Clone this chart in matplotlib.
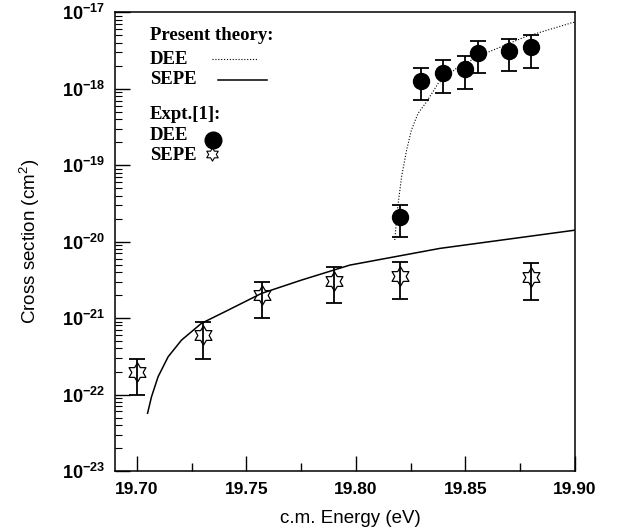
import numpy as np
import matplotlib
matplotlib.use("Agg")
import matplotlib.pyplot as plt
from matplotlib.lines import Line2D
from matplotlib.ticker import FixedLocator, FuncFormatter, NullFormatter

plt.rcParams['font.family'] = ['Liberation Sans', 'DejaVu Sans']
plt.rcParams['mathtext.fontset'] = 'custom'
plt.rcParams['mathtext.rm'] = 'Liberation Sans:bold'
plt.rcParams['mathtext.bf'] = 'Liberation Sans:bold'

# Experimental data (Expt. [1])
dee_energy = [19.82, 19.83, 19.84, 19.85, 19.856, 19.87, 19.88]
dee_sigma = [2.1e-20, 1.26e-18, 1.61e-18, 1.8e-18, 2.9e-18, 3.12e-18, 3.5e-18]
dee_upper = [3.0e-20, 1.85e-18, 2.34e-18, 2.66e-18, 4.2e-18, 4.5e-18, 5.05e-18]
dee_lower = [1.15e-20, 7.1e-19, 8.8e-19, 9.9e-19, 1.58e-18, 1.71e-18, 1.87e-18]

sepe_energy = [19.70, 19.73, 19.757, 19.79, 19.82, 19.88]
sepe_sigma = [2.0e-22, 6.0e-22, 2.0e-21, 3.05e-21, 3.5e-21, 3.45e-21]
sepe_upper = [2.94e-22, 8.9e-22, 2.96e-21, 4.6e-21, 5.4e-21, 5.2e-21]
sepe_lower = [9.9e-23, 2.94e-22, 1.0e-21, 1.56e-21, 1.79e-21, 1.72e-21]

# Present theory curves
dee_th_energy = [19.8178, 19.8190, 19.8209, 19.8232, 19.8254, 19.8284, 19.8323,
                 19.8376, 19.8467, 19.8589, 19.8772, 19.8985, 19.90]
dee_th_sigma = [1.05e-20, 2.58e-20, 7.03e-20, 1.57e-19, 2.87e-19, 4.74e-19, 6.72e-19,
                1.17e-18, 1.93e-18, 2.88e-18, 4.75e-18, 7.25e-18, 7.4e-18]

sepe_th_energy = [19.7049, 19.7067, 19.7097, 19.7143, 19.7204, 19.7295, 19.7417,
                  19.7569, 19.7752, 19.7973, 19.8384, 19.90]
sepe_th_sigma = [5.7e-23, 9.35e-23, 1.71e-22, 3.12e-22, 5.15e-22, 8.53e-22, 1.27e-21,
                 2.10e-21, 3.14e-21, 4.93e-21, 8.15e-21, 1.41e-20]

x_ticks = [19.70, 19.75, 19.80, 19.85, 19.90]
x_minor = [19.725, 19.775, 19.825, 19.875]
y_decades = [-23, -22, -21, -20, -19, -18, -17]


def hexagram():
  "Outline of a six-pointed star, point up"
  verts = []
  for k in range(12):
    ang = np.pi / 2 + k * np.pi / 6
    r = 1.0 if k % 2 == 0 else 0.58
    verts.append((r * np.cos(ang), r * np.sin(ang)))
  verts.append(verts[0])
  return verts


DOTTED = (0, (1, 1.6))
star = hexagram()

fig = plt.figure(figsize=(6.18, 5.31), dpi=100)
ax = fig.add_axes([0.186, 0.113, 0.744, 0.864])

ax.plot(dee_th_energy, dee_th_sigma, color='k', ls=DOTTED, lw=0.8)
ax.plot(sepe_th_energy, sepe_th_sigma, color='k', ls='-', lw=1.1)

dee_y = np.array(dee_sigma)
dee_err = [dee_y - np.array(dee_lower), np.array(dee_upper) - dee_y]
ax.errorbar(dee_energy, dee_y, yerr=dee_err, fmt='o', color='k', ms=11.5,
            capsize=5.5, elinewidth=1.3, capthick=1.3)

sepe_y = np.array(sepe_sigma)
sepe_err = [sepe_y - np.array(sepe_lower), np.array(sepe_upper) - sepe_y]
ax.errorbar(sepe_energy, sepe_y, yerr=sepe_err, fmt='none', ecolor='k',
            capsize=5.5, elinewidth=1.3, capthick=1.3)
ax.plot(sepe_energy, sepe_y, ls='none', marker=star, ms=14, mfc='none',
        mec='k', mew=0.9)

ax.set_yscale('log')
ax.set_xlim(19.69, 19.90)
ax.set_ylim(1e-23, 1e-17)

ax.xaxis.set_major_locator(FixedLocator(x_ticks))
ax.xaxis.set_minor_locator(FixedLocator(x_minor))
ax.xaxis.set_major_formatter(FuncFormatter(lambda v, p: "{:.2f}".format(v)))
y_minor = [m * 10.0 ** d for d in y_decades[:-1] for m in range(2, 10)]
ax.yaxis.set_major_locator(FixedLocator([10.0 ** d for d in y_decades]))
ax.yaxis.set_minor_locator(FixedLocator(y_minor))
ax.yaxis.set_minor_formatter(NullFormatter())
ax.yaxis.set_major_formatter(FuncFormatter(
  lambda v, p: r"$\mathbf{10^{%d}}$" % int(round(np.log10(v)))))

ax.tick_params(which='both', direction='in', top=False, right=False)
ax.tick_params(axis='x', which='major', length=11, width=1.0, pad=8, labelsize=12.5)
ax.tick_params(axis='x', which='minor', length=6, width=1.0)
ax.tick_params(axis='y', which='major', length=11, width=1.0, pad=7, labelsize=13)
ax.tick_params(axis='y', which='minor', length=5, width=0.8)
for lab in ax.get_xticklabels():
  lab.set_fontweight('bold')
for sp in ax.spines.values():
  sp.set_linewidth(1.1)

ax.set_xlabel("c.m. Energy (eV)", fontsize=13.5)
ax.xaxis.set_label_coords(0.511, -0.086)
ax.set_ylabel(r"Cross section (cm$^{\mathregular{2}}$)", fontsize=13.5)
ax.yaxis.set_label_coords(-0.159, 0.5)

# Key, laid out as free text like the original figure
key_font = dict(family='Liberation Serif', weight='bold', size=13.5,
                transform=ax.transAxes, va='center', ha='left')
tx = 0.076
ax.text(tx, 0.950, "Present theory:", **key_font)
ax.text(tx, 0.896, "DEE", **key_font)
ax.text(tx, 0.854, "SEPE", **key_font)
ax.add_line(Line2D([0.211, 0.311], [0.898, 0.898], transform=ax.transAxes,
                   color='k', ls=DOTTED, lw=0.8))
ax.add_line(Line2D([0.224, 0.330], [0.852, 0.852], transform=ax.transAxes,
                   color='k', ls='-', lw=1.1))
ax.text(tx, 0.776, "Expt.[1]:", **key_font)
ax.text(tx, 0.732, "DEE", **key_font)
ax.text(tx, 0.688, "SEPE", **key_font)
ax.add_line(Line2D([0.213], [0.722], transform=ax.transAxes, ls='none',
                   marker='o', ms=12, color='k'))
ax.add_line(Line2D([0.211], [0.690], transform=ax.transAxes, ls='none',
                   marker=star, ms=9.5, mfc='none', mec='k', mew=0.8))

fig.savefig("out.png", dpi=100)
